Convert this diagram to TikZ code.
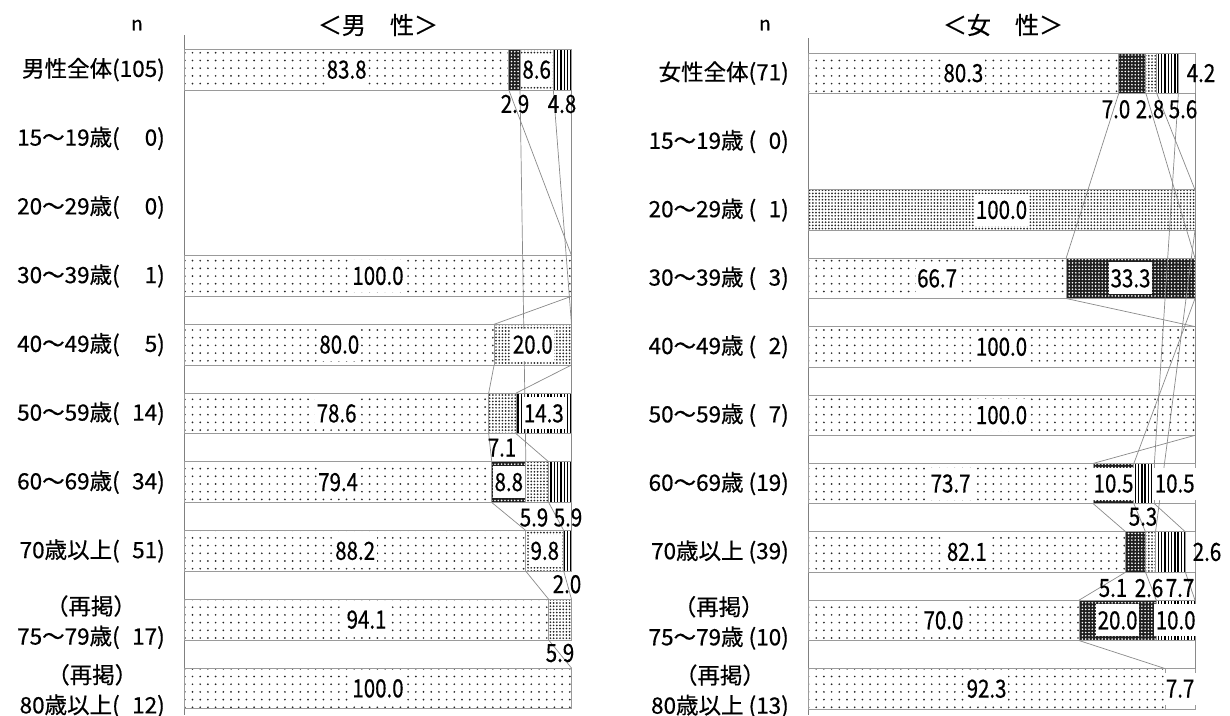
\documentclass[tikz,border=0pt]{standalone}
\usepackage{fontspec}
\setmainfont{Noto Sans CJK JP}[FakeBold=0.5]
\newfontfamily\valfont{Noto Sans CJK JP}[FakeStretch=0.82,FakeBold=0.5]
\usetikzlibrary{patterns,patterns.meta}
\definecolor{outc}{HTML}{9A9A9A}
\definecolor{linc}{HTML}{8A8A8A}
\definecolor{axc}{HTML}{808080}
\tikzset{
  segbase/.style={draw=outc, line width=0.8pt},
  pA/.style={segbase, pattern={Dots[distance=7.7pt,radius=0.95pt]}, pattern color=black!85},
  pB/.style={segbase, preaction={fill=black!88}, pattern={Dots[distance=3.3pt,radius=0.9pt]}, pattern color=white},
  pC/.style={segbase, pattern={Dots[distance=3.2pt,radius=0.95pt]}, pattern color=black!85},
  pD/.style={segbase, preaction={fill=white}, pattern={Lines[angle=90,distance=3.3pt,line width=1.4pt]}, pattern color=black},
  pE/.style={segbase, fill=white},
  vlab/.style={font=\valfont\fontsize{25}{25}\selectfont, fill=white, inner xsep=1.5pt, inner ysep=0pt, minimum height=32pt},
  olab/.style={font=\valfont\fontsize{25}{25}\selectfont, inner sep=0pt},
  rlab/.style={font=\fontsize{22.5}{30}\selectfont, anchor=east, inner sep=0pt, align=center},
  ttl/.style={font=\fontsize{24}{24}\selectfont, inner sep=0pt},
  nlab/.style={font=\fontsize{19}{19}\selectfont, inner sep=0pt},
  sline/.style={draw=linc, line width=0.7pt},
  axl/.style={draw=axc, line width=1pt},
}
% segment: style, row, from%, to%
\newcommand\bseg[4]{\path[#1] ({\chL+\chW*#3},{\chT+\chS*#2}) rectangle ({\chL+\chW*#4},{\chT+\chS*#2+\chH});}
% value label inside: name, row, centre%, text
\newcommand\inl[4]{\node[vlab] (#1) at ({\chL+\chW*#3},{\chT+\chS*#2+\chH/2}) {#4};}
% label below bar: name, row, x px, dy, text
\newcommand\outl[5]{\node[olab] (#1) at (#3,{\chT+\chS*#2+\chH+#4}) {#5};}
% label right of bar: name, row, x px, text
\newcommand\rightl[4]{\node[olab] (#1) at (#3,{\chT+\chS*#2+\chH/2}) {#4};}
% series line: name, row1, p1, row2, p2
\newcommand\serl[5]{%
  \coordinate (#1a) at ({\chL+\chW*#3},{\chT+\chS*#2+\chH});
  \coordinate (#1b) at ({\chL+\chW*#5},{\chT+\chS*#4});
  \draw[sline] (#1a) -- (#1b);}
% row label: name, row, x px, dy, text
\newcommand\rowl[5]{\node[rlab] (#1) at (#3,{\chT+\chS*#2+\chH/2+#4}) {#5};}

\begin{document}
\begin{tikzpicture}[x=1pt,y=-1pt]
\useasboundingbox (0,0) rectangle (1230,715);
\fill[white] (0,0) rectangle (1230,715);

% ================= MALE =================
\begin{scope}
\def\chL{184.5}\def\chW{3.87}\def\chT{49.3}\def\chS{68.75}\def\chH{40.7}
\node[nlab] (mn) at (137,25) {n};
\node[ttl] (mtitle) at (378,25) {＜男　性＞};
\draw[axl] (184.5,35) -- (184.5,715);
% bars
\bseg{pA}{0}{0}{83.8}\bseg{pB}{0}{83.8}{86.7}\bseg{pC}{0}{86.7}{95.3}\bseg{pD}{0}{95.3}{100}
\bseg{pA}{3}{0}{100}
\bseg{pA}{4}{0}{80}\bseg{pC}{4}{80}{100}
\bseg{pA}{5}{0}{78.6}\bseg{pC}{5}{78.6}{85.7}\bseg{pD}{5}{85.7}{100}
\bseg{pA}{6}{0}{79.4}\bseg{pB}{6}{79.4}{88.2}\bseg{pC}{6}{88.2}{94.1}\bseg{pD}{6}{94.1}{100}
\bseg{pA}{7}{0}{88.2}\bseg{pC}{7}{88.2}{98}\bseg{pD}{7}{98}{100}
\bseg{pA}{8}{0}{94.1}\bseg{pC}{8}{94.1}{100}
\bseg{pA}{9}{0}{100}
% series lines
\serl{mA1}{0}{83.8}{3}{100}\serl{mA2}{3}{100}{4}{80}\serl{mA3}{4}{80}{5}{78.6}
\serl{mA4}{5}{78.6}{6}{79.4}\serl{mA5}{6}{79.4}{7}{88.2}\serl{mA6}{7}{88.2}{8}{94.1}
\serl{mA7}{8}{94.1}{9}{100}
\serl{mB1}{0}{86.7}{6}{88.2}
\serl{mC1}{0}{95.3}{4}{100}\serl{mC2}{4}{100}{5}{85.7}\serl{mC3}{5}{85.7}{6}{94.1}
\serl{mC4}{6}{94.1}{7}{98}\serl{mC5}{7}{98}{8}{100}
\serl{mD1}{0}{100}{5}{100}\serl{mD2}{5}{100}{6}{100}\serl{mD3}{6}{100}{7}{100}
% value labels
\inl{mv01}{0}{41.9}{83.8}\inl{mv02}{0}{91.0}{8.6}
\outl{mo01}{0}{515}{14}{2.9}\outl{mo02}{0}{562}{14}{4.8}
\inl{mv31}{3}{50}{100.0}
\inl{mv41}{4}{40}{80.0}\inl{mv42}{4}{90}{20.0}
\inl{mv51}{5}{39.3}{78.6}\inl{mv52}{5}{92.85}{14.3}\outl{mo51}{5}{502}{14}{7.1}
\inl{mv61}{6}{39.7}{79.4}\inl{mv62}{6}{83.8}{8.8}
\outl{mo61}{6}{534}{15}{5.9}\outl{mo62}{6}{568}{15}{5.9}
\inl{mv71}{7}{44.1}{88.2}\inl{mv72}{7}{93.1}{9.8}\outl{mo71}{7}{567}{13}{2.0}
\inl{mv81}{8}{47.05}{94.1}\outl{mo81}{8}{560}{13}{5.9}
\inl{mv91}{9}{50}{100.0}
% row labels
\rowl{mr0}{0}{165}{0}{男性全体(105)}
\rowl{mr1}{1}{165}{0}{15〜19歳(\hspace{1.11em}0)}
\rowl{mr2}{2}{165}{0}{20〜29歳(\hspace{1.11em}0)}
\rowl{mr3}{3}{165}{0}{30〜39歳(\hspace{1.11em}1)}
\rowl{mr4}{4}{165}{0}{40〜49歳(\hspace{1.11em}5)}
\rowl{mr5}{5}{165}{0}{50〜59歳(\hspace{0.555em}14)}
\rowl{mr6}{6}{165}{0}{60〜69歳(\hspace{0.555em}34)}
\rowl{mr7}{7}{165}{0}{70歳以上(\hspace{0.555em}51)}
\rowl{mr8}{8}{165}{2.5}{（再掲）\\75〜79歳(\hspace{0.555em}17)}
\rowl{mr9}{9}{165}{2.5}{（再掲）\\80歳以上(\hspace{0.555em}12)}
\end{scope}

% ================= FEMALE =================
\begin{scope}
\def\chL{808}\def\chW{3.87}\def\chT{53}\def\chS{68.4}\def\chH{40.3}
\node[nlab] (fn) at (765,25) {n};
\node[ttl] (ftitle) at (1003,25) {＜女　性＞};
\draw[axl] (808,38) -- (808,715);
% bars
\bseg{pA}{0}{0}{80.3}\bseg{pB}{0}{80.3}{87.3}\bseg{pC}{0}{87.3}{90.1}\bseg{pD}{0}{90.1}{95.7}\bseg{pE}{0}{95.7}{100}
\bseg{pC}{2}{0}{100}
\bseg{pA}{3}{0}{66.7}\bseg{pB}{3}{66.7}{100}
\bseg{pA}{4}{0}{100}
\bseg{pA}{5}{0}{100}
\bseg{pA}{6}{0}{73.7}\bseg{pB}{6}{73.7}{84.2}\bseg{pD}{6}{84.2}{89.5}\bseg{pE}{6}{89.5}{100}
\bseg{pA}{7}{0}{82.1}\bseg{pB}{7}{82.1}{87.2}\bseg{pC}{7}{87.2}{89.8}\bseg{pD}{7}{89.8}{97.5}\bseg{pE}{7}{97.5}{100}
\bseg{pA}{8}{0}{70}\bseg{pB}{8}{70}{90}\bseg{pD}{8}{90}{100}
\bseg{pA}{9}{0}{92.3}\bseg{pE}{9}{92.3}{100}
% series lines
\serl{fA1}{0}{80.3}{3}{66.7}\serl{fA2}{3}{66.7}{4}{100}\serl{fA3}{4}{100}{5}{100}
\serl{fA4}{5}{100}{6}{73.7}\serl{fA5}{6}{73.7}{7}{82.1}\serl{fA6}{7}{82.1}{8}{70}
\serl{fA7}{8}{70}{9}{92.3}
\serl{fB1}{0}{87.3}{3}{100}\serl{fB2}{3}{100}{6}{84.2}\serl{fB3}{6}{84.2}{7}{87.2}
\serl{fB4}{7}{87.2}{8}{90}
\serl{fC1}{0}{90.1}{2}{100}\serl{fC2}{2}{100}{7}{89.8}
\serl{fD1}{0}{95.7}{6}{89.5}\serl{fD2}{6}{89.5}{7}{97.5}\serl{fD3}{7}{97.5}{8}{100}
\serl{fE1}{0}{100}{6}{100}\serl{fE2}{6}{100}{7}{100}\serl{fE3}{7}{100}{9}{100}
% value labels
\inl{fv01}{0}{40.15}{80.3}
\outl{fo01}{0}{1116}{16}{7.0}\outl{fo02}{0}{1150}{16}{2.8}\outl{fo03}{0}{1183}{16}{5.6}
\rightl{fr01}{0}{1201}{4.2}
\inl{fv21}{2}{50}{100.0}
\inl{fv31}{3}{33.35}{66.7}\inl{fv32}{3}{83.35}{33.3}
\inl{fv41}{4}{50}{100.0}
\inl{fv51}{5}{50}{100.0}
\inl{fv61}{6}{36.85}{73.7}\inl{fv62}{6}{78.95}{10.5}\inl{fv63}{6}{94.75}{10.5}
\outl{fo61}{6}{1143}{13}{5.3}
\inl{fv71}{7}{41.05}{82.1}
\outl{fo71}{7}{1113}{16}{5.1}\outl{fo72}{7}{1149}{16}{2.6}\outl{fo73}{7}{1180}{16}{7.7}
\rightl{fr71}{7}{1207}{2.6}
\inl{fv81}{8}{35}{70.0}\inl{fv82}{8}{80}{20.0}\inl{fv83}{8}{95}{10.0}
\inl{fv91}{9}{46.15}{92.3}\inl{fv92}{9}{96.15}{7.7}
% row labels
\rowl{fr0}{0}{789}{0}{女性全体(71)}
\rowl{fr1}{1}{789}{0}{15〜19歳 (\hspace{0.555em}0)}
\rowl{fr2}{2}{789}{0}{20〜29歳 (\hspace{0.555em}1)}
\rowl{fr3}{3}{789}{0}{30〜39歳 (\hspace{0.555em}3)}
\rowl{fr4}{4}{789}{0}{40〜49歳 (\hspace{0.555em}2)}
\rowl{fr5}{5}{789}{0}{50〜59歳 (\hspace{0.555em}7)}
\rowl{fr6}{6}{789}{0}{60〜69歳 (19)}
\rowl{fr7}{7}{789}{0}{70歳以上 (39)}
\rowl{fr8}{8}{789}{2.5}{（再掲）\\75〜79歳 (10)}
\rowl{fr9}{9}{789}{2.5}{（再掲）\\80歳以上 (13)}
\end{scope}
\end{tikzpicture}
\end{document}
